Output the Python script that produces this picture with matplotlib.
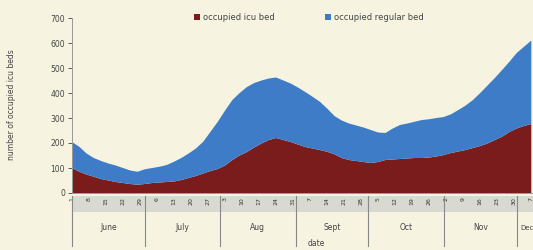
import matplotlib
matplotlib.use("Agg")
import matplotlib.pyplot as plt
import matplotlib.dates as mdates
from matplotlib.patches import Rectangle
import pandas as pd
import numpy as np

# ---- data (every 3 days starting 1 June) ----
start_date = "2020-06-01"
step_days = 3
icu_beds = [100, 85, 74, 65, 56, 50, 44, 40, 36, 33, 36, 40, 42, 44, 46, 52,
            60, 68, 78, 88, 96, 110, 132, 150, 164, 182, 198, 212, 220, 212,
            204, 194, 184, 178, 172, 165, 155, 140, 132, 128, 124, 120, 124,
            132, 134, 136, 138, 140, 140, 142, 146, 152, 160, 166, 172, 180,
            188, 198, 212, 225, 244, 258, 268, 276]
regular_beds = [104, 100, 84, 75, 72, 68, 66, 60, 54, 52, 59, 60, 63, 68, 79,
                88, 98, 110, 127, 157, 189, 220, 240, 250, 260, 258, 252, 246,
                242, 238, 234, 228, 220, 207, 193, 173, 153, 150, 146, 142,
                138, 132, 118, 108, 124, 136, 140, 145, 152, 153, 154, 152,
                155, 166, 178, 192, 212, 232, 248, 267, 281, 302, 317, 334]
series_labels = ["occupied icu bed", "occupied regular bed"]
month_labels = ["June", "July", "Aug", "Sept", "Oct", "Nov", "Dec"]
y_ticks = [0, 100, 200, 300, 400, 500, 600, 700]

dates = pd.date_range(start_date, periods=len(icu_beds), freq=f"{step_days}D")
x = mdates.date2num(dates.to_pydatetime())

bg = "#f6f4e1"
c_icu = "#7a1c1c"
c_reg = "#3f7cc8"
txt = "#444444"

fig = plt.figure(figsize=(5.33, 2.5), dpi=100, facecolor=bg)
ax = fig.add_axes([72 / 533, 1 - 193 / 250, 1 - 72 / 533, 175 / 250])
ax.set_facecolor(bg)

ax.stackplot(x, icu_beds, regular_beds, colors=[c_icu, c_reg],
             labels=series_labels, linewidth=0)

x0 = mdates.date2num(pd.Timestamp(start_date))
ax.set_xlim(x0, x0 + 189.7)
ax.set_ylim(0, 700)
ax.set_yticks(y_ticks)
ax.tick_params(axis="y", labelsize=5.5, colors=txt, length=3, width=0.6, pad=2)
for lab in ax.get_yticklabels():
    lab.set_color(txt)
for s in ["top", "right"]:
    ax.spines[s].set_visible(False)
ax.spines["left"].set_color("#999999")
ax.spines["left"].set_linewidth(0.7)
ax.spines["bottom"].set_color("#999999")
ax.spines["bottom"].set_linewidth(0.7)

# weekly day-of-month ticks
week_ticks = pd.date_range(start_date, periods=28, freq="7D")
ax.set_xticks(mdates.date2num(week_ticks.to_pydatetime()))
ax.set_xticklabels([str(d.day) for d in week_ticks], rotation=90,
                   fontsize=4.5, color="#333333")
ax.tick_params(axis="x", length=0, pad=3)

# gray band behind day labels
band = Rectangle((0, -0.109), 1.0, 0.092, transform=ax.transAxes,
                 facecolor="#d9d9d2", edgecolor="none", clip_on=False, zorder=0)
ax.add_patch(band)

# month separators and labels
month_starts = pd.date_range(start_date, periods=len(month_labels) + 1, freq="MS")
ms = mdates.date2num(month_starts.to_pydatetime())
xmax = ax.get_xlim()[1]
trans = ax.get_xaxis_transform()
for i, lab in enumerate(month_labels):
    ax.plot([ms[i], ms[i]], [-0.015, -0.30], transform=trans, color="#888888",
            lw=0.8, clip_on=False)
    if ms[i + 1] <= xmax:
        ax.text((ms[i] + ms[i + 1]) / 2, -0.20, lab, transform=trans,
                ha="center", va="center", fontsize=5.5, color=txt, clip_on=False)
    else:
        ax.text(ms[i] + 1.5, -0.20, lab, transform=trans,
                ha="left", va="center", fontsize=5.0, color=txt, clip_on=False)

ax.text(0.53, -0.29, "date", transform=ax.transAxes, ha="center", va="center",
        fontsize=5.5, color=txt)
fig.text(12 / 533, 1 - 105 / 250, "number of occupied icu beds", rotation=90,
         ha="center", va="center", fontsize=5.5, color=txt)

fig.legend(loc="center", bbox_to_anchor=(0.58, 1 - 17 / 250), ncol=2,
           frameon=False, fontsize=6, handlelength=0.7, handleheight=0.7,
           columnspacing=6, handletextpad=0.4, labelcolor=txt)

fig.savefig("out.png", dpi=100, facecolor=bg)
